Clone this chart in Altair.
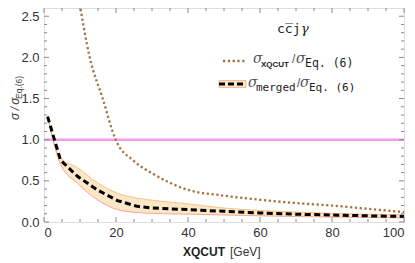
import altair as alt
import pandas as pd

# ---- data ----
xq_x = [9.5, 12.7, 16.3, 19.9, 25.0, 30.5, 40, 50, 60, 70, 80, 90, 100]
xq_y = [2.76, 2.0, 1.5, 1.0, 0.74, 0.58, 0.39, 0.32, 0.27, 0.23, 0.2, 0.16, 0.12]

m_x = [1, 4.6, 9.3, 14.8, 20.4, 25.9, 30, 40, 50, 60, 70, 80, 90, 100]
m_y = [1.28, 0.75, 0.555, 0.39, 0.26, 0.19, 0.17, 0.15, 0.13, 0.11, 0.095, 0.085, 0.075, 0.068]
m_hi = [1.29, 0.78, 0.66, 0.48, 0.35, 0.29, 0.265, 0.22, 0.17, 0.14, 0.12, 0.105, 0.095, 0.088]
m_lo = [1.27, 0.70, 0.47, 0.27, 0.15, 0.115, 0.105, 0.095, 0.085, 0.075, 0.066, 0.06, 0.055, 0.05]

ref_y = [1.0]

x_major = [0, 20, 40, 60, 80, 100]
x_minor = [5, 10, 15, 25, 30, 35, 45, 50, 55, 65, 70, 75, 85, 90, 95]
y_major = [0.0, 0.5, 1.0, 1.5, 2.0, 2.5]
y_minor = [0.1, 0.2, 0.3, 0.4, 0.6, 0.7, 0.8, 0.9, 1.1, 1.2, 1.3, 1.4,
           1.6, 1.7, 1.8, 1.9, 2.1, 2.2, 2.3, 2.4]

W, H = 360, 214
FRAME = "#8a8a8a"
xs = alt.Scale(domain=[0, 100], nice=False, zero=False)
ys = alt.Scale(domain=[0, 2.6], nice=False, zero=False)

df_xq = pd.DataFrame({"x": xq_x, "y": xq_y})
df_m = pd.DataFrame({"x": m_x, "y": m_y, "hi": m_hi, "lo": m_lo})
one = alt.Data(values=[{}])

band = alt.Chart(df_m).mark_area(
    color="#fbe6c8", opacity=1, clip=True, interpolate="monotone"
).encode(
    x=alt.X("x:Q", scale=xs, title=None,
            axis=alt.Axis(values=x_major, ticks=False, domain=False, grid=False,
                          labelFont="Liberation Sans", labelFontSize=13,
                          labelColor="#333", labelPadding=4, format="d")),
    y=alt.Y("hi:Q", scale=ys, title=None,
            axis=alt.Axis(values=y_major, ticks=False, domain=False, grid=False,
                          labelFont="Liberation Sans", labelFontSize=13,
                          labelColor="#333", labelPadding=5, format=".1f")),
    y2="lo:Q",
)
band_hi = alt.Chart(df_m).mark_line(color="#f7b56a", strokeWidth=0.8, clip=True,
                                    interpolate="monotone").encode(
    x=alt.X("x:Q", scale=xs), y=alt.Y("hi:Q", scale=ys))
band_lo = alt.Chart(df_m).mark_line(color="#f2967c", strokeWidth=0.8, clip=True,
                                    interpolate="monotone").encode(
    x=alt.X("x:Q", scale=xs), y=alt.Y("lo:Q", scale=ys))

pink = alt.Chart(pd.DataFrame({"y": ref_y})).mark_rule(
    color="#f49cf0", strokeWidth=2.5).encode(y=alt.Y("y:Q", scale=ys))

dotted = alt.Chart(df_xq).mark_line(
    color="#a8703e", strokeWidth=2.3, strokeDash=[2.2, 2.6], clip=True,
    interpolate="monotone").encode(
    x=alt.X("x:Q", scale=xs), y=alt.Y("y:Q", scale=ys))

dashed = alt.Chart(df_m).mark_line(
    color="black", strokeWidth=3, strokeDash=[6, 3.5], clip=True).encode(
    x=alt.X("x:Q", scale=xs), y=alt.Y("y:Q", scale=ys))

# ---- frame ticks (inward) ----
def xticks(vals, length):
    d = pd.DataFrame({"x": vals})
    b = alt.Chart(d).mark_rule(color=FRAME, strokeWidth=1).encode(
        x=alt.X("x:Q", scale=xs), y=alt.value(H), y2=alt.value(H - length))
    t = alt.Chart(d).mark_rule(color=FRAME, strokeWidth=1).encode(
        x=alt.X("x:Q", scale=xs), y=alt.value(0), y2=alt.value(length))
    return [b, t]

def yticks(vals, length):
    d = pd.DataFrame({"y": vals})
    l = alt.Chart(d).mark_rule(color=FRAME, strokeWidth=1).encode(
        y=alt.Y("y:Q", scale=ys), x=alt.value(0), x2=alt.value(length))
    r = alt.Chart(d).mark_rule(color=FRAME, strokeWidth=1).encode(
        y=alt.Y("y:Q", scale=ys), x=alt.value(W), x2=alt.value(W - length))
    return [l, r]

ticks = xticks(x_major, 5) + xticks(x_minor, 3) + yticks(y_major, 5) + yticks(y_minor, 3)

# ---- texts ----
def txt(s, x, y, **kw):
    return alt.Chart(one).mark_text(text=s, align="left", baseline="alphabetic",
                                    **kw).encode(x=alt.value(x), y=alt.value(y))

SANS = "Liberation Sans"
MONO = "DejaVu Sans Mono"
SERIF = "DejaVu Serif"
texts = [
    # legend title
    txt("cc\u0305j", 233, 25, font=MONO, fontSize=13, color="#222"),
    txt("\u03b3", 257, 25, font=SERIF, fontStyle="italic", fontSize=13, color="#222"),
    # legend entry 1
    txt("\u03c3", 209, 55, font=SERIF, fontStyle="italic", fontSize=14, color="#555"),
    txt("XQCUT", 217, 59, font=SANS, fontWeight="bold", fontSize=8, color="#222"),
    txt("/", 248, 55, font=SANS, fontSize=12, color="#555"),
    txt("\u03c3", 252, 55, font=SERIF, fontStyle="italic", fontSize=14, color="#555"),
    txt("Eq. (6)", 261, 59, font=MONO, fontSize=11.5, color="#222"),
    # legend entry 2
    txt("\u03c3", 204, 79, font=SERIF, fontStyle="italic", fontSize=14, color="#555"),
    txt("merged", 212, 83, font=MONO, fontSize=11, color="#222"),
    txt("/", 253, 79, font=SANS, fontSize=12, color="#555"),
    txt("\u03c3", 256, 79, font=SERIF, fontStyle="italic", fontSize=14, color="#555"),
    txt("Eq. (6)", 265, 83, font=MONO, fontSize=11, color="#222"),
    # x title
    txt("XQCUT", 139, 248, font=SANS, fontWeight="bold", fontSize=12, color="#222"),
    txt("[GeV]", 186, 248, font=SANS, fontSize=12, color="#333"),
    # y title (rotated)
    alt.Chart(one).mark_text(text="\u03c3\u2009/\u2009\u03c3", align="left",
                             baseline="alphabetic", angle=270, font=SANS,
                             fontStyle="italic", fontSize=12,
                             color="#444").encode(x=alt.value(-25), y=alt.value(112)),
    alt.Chart(one).mark_text(text="Eq.(6)", align="left", baseline="alphabetic",
                             angle=270, font=SANS, fontSize=8.5,
                             color="#444").encode(x=alt.value(-22), y=alt.value(91)),
]

# ---- legend swatches ----
sw1 = alt.Chart(one).mark_rule(color="#a8703e", strokeWidth=2.3,
                               strokeDash=[2.2, 2.6]).encode(
    x=alt.value(179), x2=alt.value(201), y=alt.value(53))
sw2_band = alt.Chart(one).mark_rect(color="#fbe6c8", stroke="#f2a07c",
                                    strokeWidth=0.7).encode(
    x=alt.value(175), x2=alt.value(202), y=alt.value(72.5), y2=alt.value(79.5))
sw2_line = alt.Chart(one).mark_rule(color="black", strokeWidth=3,
                                    strokeDash=[6, 3]).encode(
    x=alt.value(175), x2=alt.value(202), y=alt.value(76))

chart = alt.layer(
    band, band_hi, band_lo, pink, dotted, dashed, *ticks, sw2_band, sw2_line, sw1, *texts
).properties(
    width=W, height=H,
    autosize=alt.AutoSizeParams(type="none"),
    padding={"left": 36, "top": 0, "right": 3, "bottom": 39},
).configure_view(stroke=FRAME, strokeWidth=1.2).configure(background="white")

chart.save("out.html", embed_options={"renderer": "svg", "actions": False})
